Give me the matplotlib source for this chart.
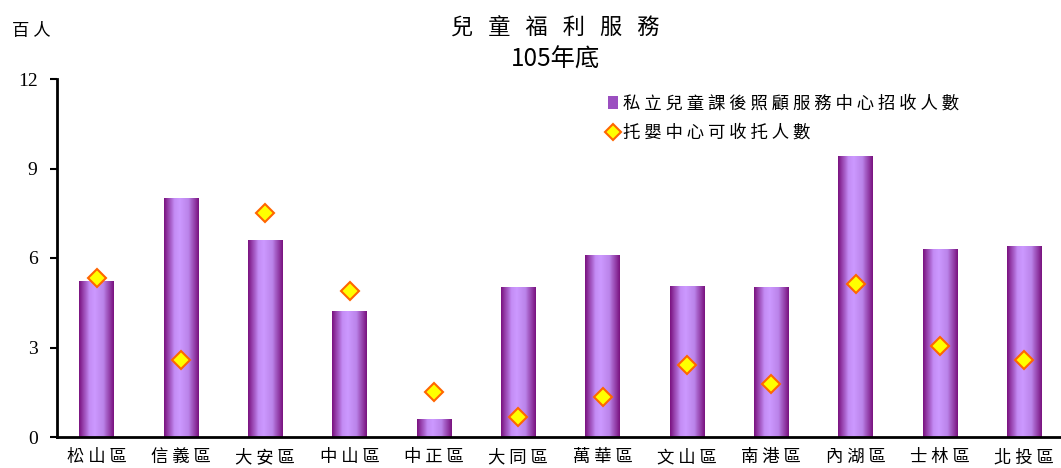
import numpy as np
import matplotlib
matplotlib.use("Agg")
import matplotlib.pyplot as plt
from matplotlib.colors import LinearSegmentedColormap
from matplotlib.patches import Patch
from matplotlib.lines import Line2D

plt.rcParams['font.family'] = ['Noto Sans CJK TC', 'DejaVu Sans']

districts = ['松山區', '信義區', '大安區', '中山區', '中正區', '大同區',
             '萬華區', '文山區', '南港區', '內湖區', '士林區', '北投區']
after_school = [5.20, 8.01, 6.57, 4.19, 0.60, 5.00, 6.10, 5.03, 5.00, 9.39, 6.30, 6.37]
nursery = [5.33, 2.58, 7.51, 4.89, 1.51, 0.67, 1.34, 2.41, 1.78, 5.13, 3.05, 2.58]
yticks = [0, 3, 6, 9, 12]

bar_label = '私立兒童課後照顧服務中心招收人數'
dot_label = '托嬰中心可收托人數'


def spaced(s, sep=' '):
    return sep.join(s)


fig = plt.figure(figsize=(10.61, 4.68), dpi=100)
ax = fig.add_axes([57 / 1061, 31 / 468, 1 - 57 / 1061 + 0.005, (437 - 79) / 468])

x = np.arange(len(districts))
width = 0.41
cmap = LinearSegmentedColormap.from_list(
    'purp', [(0, '#7a1380'), (0.3, '#c48cf5'), (0.45, '#cc99ff'),
             (0.7, '#bb84ea'), (1, '#7a1380')])
grad = np.linspace(0, 1, 64).reshape(1, -1)

bars = ax.bar(x, after_school, width=width, color='none', zorder=2)
for b in bars:
    x0 = b.get_x()
    ax.imshow(grad, extent=[x0, x0 + b.get_width(), 0, b.get_height()],
              aspect='auto', cmap=cmap, zorder=2, interpolation='bilinear')

ax.plot(x, nursery, linestyle='none', marker='D', markersize=9,
        markerfacecolor='#ffff00', markeredgecolor='#ff6600',
        markeredgewidth=1.5, zorder=3)

ax.set_xlim(-0.47, 11.5)
ax.set_ylim(0, 12)
ax.set_yticks(yticks)
ax.set_yticklabels([str(v) for v in yticks], family='Liberation Serif', fontsize=14)
ax.set_xticks(x)
ax.set_xticklabels([spaced(d) for d in districts], fontsize=12.5)
ax.tick_params(axis='x', length=0, pad=8)
ax.tick_params(axis='y', length=5, width=1.5, pad=9)
for s in ['top', 'right']:
    ax.spines[s].set_visible(False)
for s in ['left', 'bottom']:
    ax.spines[s].set_linewidth(2)

handles = [Patch(facecolor='#9b4fc0', edgecolor='none'),
           Line2D([], [], linestyle='none', marker='D', markersize=8,
                  markerfacecolor='#ffff00', markeredgecolor='#ff6600',
                  markeredgewidth=1.5)]
ax.legend(handles, [spaced(bar_label), spaced(dot_label)],
          loc='upper left', bbox_to_anchor=(0.53, 1.0), frameon=False,
          fontsize=12.5, handlelength=0.6, handletextpad=0.3, labelspacing=0.65)

fig.text(555 / 1061, 1 - 28 / 468, spaced('兒童福利服務', '   '),
         ha='center', va='center', fontsize=16)
fig.text(555 / 1061, 1 - 60 / 468, '105年底', ha='center', va='center', fontsize=17.5)
fig.text(12 / 1061, 1 - 31 / 468, spaced('百人'), ha='left', va='center', fontsize=12.5)

fig.savefig('out.png', dpi=100)
